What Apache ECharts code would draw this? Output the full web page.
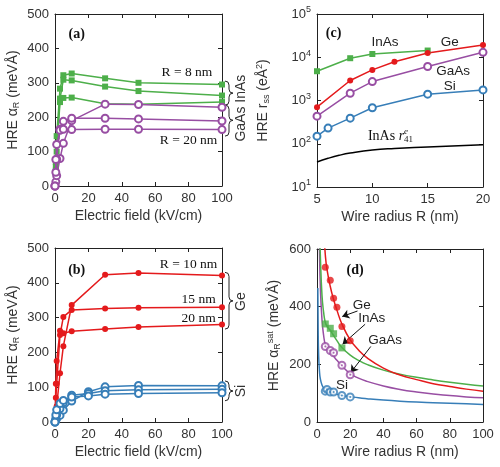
<!DOCTYPE html>
<html>
<head>
<meta charset="utf-8">
<script src="https://cdn.jsdelivr.net/npm/echarts@6/dist/echarts.min.js"></script>
<style>
  html, body { margin: 0; padding: 0; background: #fff; }
  #chart { width: 500px; height: 467px; }
</style>
</head>
<body>
<div id="chart"></div>
<script>
// ---- (a) InAs / GaAs, alpha_R vs electric field
var fieldA = [0, 0.5, 1, 3, 5, 10, 30, 50, 100];
var inAs8 = [0, 70, 145, 283, 322, 327, 313, 300, 295];
var inAsMid = [0, 55, 120, 254, 309, 307, 289, 276, 263];
var inAsLow = [0, 45, 100, 244, 256, 257, 239, 238, 244];
var gaAsTop = [0, 12, 30, 80, 124, 190, 238, 237, 229];
var gaAsMid = [0, 40, 78, 165, 188, 197, 197, 195, 189];
var gaAs20 = [0, 77, 121, 162, 165, 164, 165, 165, 164];

// ---- (b) Ge / Si
var fieldGe = [0, 0.5, 1, 3, 5, 10, 30, 50, 100];
var ge10 = [0, 20, 45, 140, 218, 336, 423, 428, 421];
var ge15 = [0, 70, 110, 250, 302, 322, 326, 328, 330];
var ge20 = [0, 110, 175, 262, 255, 261, 267, 273, 280];
var fieldSi = [0, 0.5, 1, 3, 5, 10, 20, 30, 50, 100];
var siTop = [0, 5, 10, 19, 34, 60, 87, 101, 105, 104];
var siMid = [0, 10, 20, 38, 55, 77, 82, 90, 93, 94];
var siLow = [0, 20, 35, 53, 62, 72, 75, 80, 82, 84];

// ---- (c) r_ss vs wire radius (log)
var radInAs = [5, 8, 10, 15];
var rssInAs = [4750, 9500, 11900, 14300];
var radGe = [5, 8, 10, 12, 15, 20];
var rssGe = [700, 2900, 5100, 7900, 12600, 19300];
var radGaAs = [5, 8, 10, 15, 20];
var rssGaAs = [435, 1475, 2740, 6100, 13000];
var radSi = [5, 6, 8, 10, 15, 20];
var rssSi = [150, 230, 390, 680, 1400, 1760];
var radR41 = [5, 6, 7, 8, 10, 12, 15, 20];
var r41 = [38, 46, 54, 61, 72, 78, 84, 95];

// ---- (d) saturated alpha_R vs wire radius
var geSatR = [5, 8, 10, 12, 15, 20];
var geSat = [537, 492, 429, 398, 331, 282];
var inAsSatR = [5, 8, 10, 15];
var inAsSat = [340, 325, 306, 257];
var gaAsSatR = [5, 8, 10, 15, 20];
var gaAsSat = [262, 248, 240, 197, 164];
var siSatR = [5, 6, 8, 10, 15, 20];
var siSat = [107, 113, 104, 104, 92, 87];

var geFitR = [4.3, 5, 6, 8, 10, 12, 15, 20, 25, 30, 40, 50, 60, 70, 80, 90, 100];
var geFit = [650, 580, 530, 470, 425, 388, 340, 285, 250, 223, 187, 163, 147, 133, 123, 114, 107];
var inAsFitR = [1.7, 2, 3, 4, 5, 6, 8, 10, 12, 15, 20, 25, 30, 40, 50, 60, 70, 80, 90, 100];
var inAsFit = [650, 580, 440, 380, 345, 332, 318, 300, 282, 258, 232, 214, 200, 180, 166, 155, 146, 138, 131, 125];
var gaAsFitR = [1.2, 1.5, 2, 3, 4, 5, 6, 8, 10, 12, 15, 20, 25, 30, 40, 50, 60, 70, 80, 90, 100];
var gaAsFit = [720, 600, 470, 355, 300, 268, 258, 242, 228, 214, 195, 168, 152, 141, 125, 113, 104, 97, 92, 87, 84];
var siFitR = [0.5, 0.7, 1, 1.5, 2, 3, 4, 5, 6, 8, 10, 12, 15, 20, 25, 30, 40, 50, 60, 70, 80, 90, 100];
var siFit = [465, 320, 230, 175, 150, 128, 118, 112, 108, 103, 99, 96, 92, 88, 84, 81, 76, 72, 69, 67, 65, 63, 61];

var GREEN = '#4daf4a', PURPLE = '#984ea3', RED = '#e41a1c', BLUE = '#377eb8';
var SANS = 'Liberation Sans', SERIF = 'Liberation Serif';

function zip(xs, ys) {
  return xs.map(function (x, i) { return [x, ys[i]]; });
}

var chart = echarts.init(document.getElementById('chart'));

var grids = [
  { left: 55, top: 14, width: 167, height: 172 },
  { left: 55, top: 248, width: 167, height: 174 },
  { left: 317, top: 14, width: 166, height: 173 },
  { left: 317, top: 249, width: 166, height: 173 }
];

var subRich = {
  t: { fontSize: 14, fontFamily: SANS, color: '#333' },
  s: { fontSize: 9, fontFamily: SANS, color: '#333', padding: [7, 0, 0, 0] },
  p: { fontSize: 9, fontFamily: SANS, color: '#333', padding: [0, 0, 8, 0] }
};

var xSpec = [
  { min: 0, max: 100, interval: 20, name: 'Electric field (kV/cm)' },
  { min: 0, max: 100, interval: 20, name: 'Electric field (kV/cm)' },
  { min: 5, max: 20, interval: 5, name: 'Wire radius R (nm)' },
  { min: 0, max: 100, interval: 20, name: 'Wire radius R (nm)' }
];
var ySpec = [
  { type: 'value', min: 0, max: 500, interval: 100, gap: 34, name: '{t|HRE α}{s|R}{t| (meVÅ)}' },
  { type: 'value', min: 0, max: 500, interval: 100, gap: 34, name: '{t|HRE α}{s|R}{t| (meVÅ)}' },
  { type: 'log', min: 10, max: 100000, gap: 45, name: '{t|HRE r}{s|ss}{t| (eÅ}{p|2}{t|)}' },
  { type: 'value', min: 0, max: 600, interval: 200, gap: 34, name: '{t|HRE α}{s|R}{p|sat}{t| (meVÅ)}' }
];

function baseAxis() {
  return {
    axisLine: { show: true, onZero: false, lineStyle: { color: '#222', width: 1 } },
    axisTick: { show: true, inside: true, length: 4, lineStyle: { color: '#222' } },
    splitLine: { show: false },
    axisLabel: { color: '#333', fontSize: 13, fontFamily: SANS, margin: 6 }
  };
}

var xAxes = [], yAxes = [];
xSpec.forEach(function (s, g) {
  var b = baseAxis();
  b.type = 'value'; b.gridIndex = g; b.position = 'bottom';
  b.min = s.min; b.max = s.max; b.interval = s.interval;
  b.name = s.name; b.nameLocation = 'middle'; b.nameGap = 23;
  b.nameTextStyle = { color: '#333', fontSize: 14, fontFamily: SANS };
  xAxes.push(b);
  var t = baseAxis();
  t.type = 'value'; t.gridIndex = g; t.position = 'top';
  t.min = s.min; t.max = s.max; t.interval = s.interval;
  t.axisLabel = { show: false };
  xAxes.push(t);
});
ySpec.forEach(function (s, g) {
  var b = baseAxis();
  b.type = s.type; b.gridIndex = g; b.position = 'left';
  b.min = s.min; b.max = s.max;
  if (s.interval) b.interval = s.interval;
  b.name = s.name; b.nameLocation = 'middle'; b.nameGap = s.gap;
  b.nameTextStyle = { rich: subRich };
  if (s.type === 'log') {
    b.logBase = 10;
    b.axisLabel.formatter = function (v) {
      return '{b|10}{e|' + Math.round(Math.log10(v)) + '}';
    };
    b.axisLabel.rich = {
      b: { fontSize: 13, fontFamily: SANS, color: '#333' },
      e: { fontSize: 9, fontFamily: SANS, color: '#333', padding: [0, 0, 8, 0] }
    };
  }
  yAxes.push(b);
  var r = baseAxis();
  r.type = s.type; r.gridIndex = g; r.position = 'right';
  r.min = s.min; r.max = s.max;
  if (s.interval) r.interval = s.interval;
  if (s.type === 'log') r.logBase = 10;
  r.axisLabel = { show: false };
  yAxes.push(r);
});

function lineSeries(g, xs, ys, color, symbol, size, smooth) {
  var filled = symbol !== 'emptyCircle';
  return {
    type: 'line', xAxisIndex: 2 * g, yAxisIndex: 2 * g,
    data: zip(xs, ys), color: color,
    symbol: symbol || 'none', symbolSize: size || 6, showSymbol: !!symbol,
    smooth: !!smooth, clip: true,
    lineStyle: { color: color, width: 1.5 },
    itemStyle: filled ? { color: color } : { color: color, borderColor: color, borderWidth: 1.3 },
    z: filled ? 3 : 4
  };
}
function pointSeries(g, xs, ys, color, symbol, size) {
  var s = lineSeries(g, xs, ys, color, symbol, size);
  s.type = 'scatter';
  delete s.smooth; delete s.showSymbol; delete s.lineStyle;
  s.z = 5;
  return s;
}

var arrows = [
  [[24.4, 385], [15.2, 366]],
  [[29, 339], [15.4, 270]],
  [[32.4, 262], [20.4, 172]]
];

var siSatPoints = pointSeries(3, siSatR, siSat, BLUE, 'emptyCircle', 7);
siSatPoints.markLine = {
  silent: true, animation: false,
  symbol: ['none', 'arrow'], symbolSize: 7,
  label: { show: false },
  lineStyle: { color: '#111', width: 1, type: 'solid' },
  data: arrows.map(function (a) { return [{ coord: a[0] }, { coord: a[1] }]; })
};

var series = [
  lineSeries(0, fieldA, inAs8, GREEN, 'rect', 6),
  lineSeries(0, fieldA, inAsMid, GREEN, 'rect', 6),
  lineSeries(0, fieldA, inAsLow, GREEN, 'rect', 6),
  lineSeries(0, fieldA, gaAsTop, PURPLE, 'emptyCircle', 7),
  lineSeries(0, fieldA, gaAsMid, PURPLE, 'emptyCircle', 7),
  lineSeries(0, fieldA, gaAs20, PURPLE, 'emptyCircle', 7),

  lineSeries(1, fieldGe, ge10, RED, 'circle', 6),
  lineSeries(1, fieldGe, ge15, RED, 'circle', 6),
  lineSeries(1, fieldGe, ge20, RED, 'circle', 6),
  lineSeries(1, fieldSi, siTop, BLUE, 'emptyCircle', 7),
  lineSeries(1, fieldSi, siMid, BLUE, 'emptyCircle', 7),
  lineSeries(1, fieldSi, siLow, BLUE, 'emptyCircle', 7),

  lineSeries(2, radR41, r41, '#000', null, 0, true),
  lineSeries(2, radInAs, rssInAs, GREEN, 'rect', 6),
  lineSeries(2, radGe, rssGe, RED, 'circle', 6),
  lineSeries(2, radGaAs, rssGaAs, PURPLE, 'emptyCircle', 7),
  lineSeries(2, radSi, rssSi, BLUE, 'emptyCircle', 7),

  lineSeries(3, siFitR, siFit, BLUE, null, 0, true),
  lineSeries(3, gaAsFitR, gaAsFit, PURPLE, null, 0, true),
  lineSeries(3, inAsFitR, inAsFit, GREEN, null, 0, true),
  lineSeries(3, geFitR, geFit, RED, null, 0, true),
  pointSeries(3, geSatR, geSat, RED, 'circle', 7),
  pointSeries(3, inAsSatR, inAsSat, GREEN, 'rect', 7),
  pointSeries(3, gaAsSatR, gaAsSat, PURPLE, 'emptyCircle', 7),
  siSatPoints,
  pointSeries(3, gaAsSatR, gaAsSat, PURPLE, 'circle', 2),
  pointSeries(3, siSatR, siSat, BLUE, 'circle', 2)
];

chart.setOption({
  animation: false,
  grid: grids,
  xAxis: xAxes,
  yAxis: yAxes,
  series: series
});

// ---- annotations placed through the axes
var panelTag = { fontSize: 14, fontFamily: SERIF, fontWeight: 'bold', fill: '#111' };
var serifLbl = { fontSize: 13.5, fontFamily: SERIF, fill: '#111' };
var sansLbl = { fontSize: 13.5, fontFamily: SANS, fill: '#222' };

var labels = [
  [0, 13, 442, '(a)', panelTag],
  [0, 79, 331, 'R = 8 nm', serifLbl],
  [0, 80, 133, 'R = 20 nm', serifLbl],
  [1, 13, 437, '(b)', panelTag],
  [1, 80, 452, 'R = 10 nm', serifLbl],
  [1, 86, 351, '15 nm', serifLbl],
  [1, 86, 298, '20 nm', serifLbl],
  [2, 6.5, 34700, '(c)', panelTag],
  [2, 11.15, 22400, 'InAs', sansLbl],
  [2, 17, 22400, 'Ge', sansLbl],
  [2, 17.3, 4680, 'GaAs', sansLbl],
  [2, 17, 2090, 'Si', sansLbl],
  [3, 23, 527, '(d)', panelTag],
  [3, 27, 406, 'Ge', sansLbl],
  [3, 33, 360, 'InAs', sansLbl],
  [3, 41, 285, 'GaAs', sansLbl],
  [3, 15, 129, 'Si', sansLbl]
];

var braces = [
  [0, 305, 235, 270, 283, 'InAs'],
  [0, 235, 145, 191, 180, 'GaAs'],
  [1, 430, 267, 348, 346, 'Ge'],
  [1, 118, 61, 89, 89, 'Si']
];

function px(g, x, y) {
  return chart.convertToPixel({ xAxisIndex: 2 * g, yAxisIndex: 2 * g }, [x, y]);
}

var graphics = [];
labels.forEach(function (l) {
  var p = px(l[0], l[1], l[2]);
  var st = Object.assign({ text: l[3], align: 'center', verticalAlign: 'middle' }, l[4]);
  graphics.push({ type: 'text', x: p[0], y: p[1], style: st, z: 10 });
});

// InAs r^e_41 label
var pr = px(2, 9.6, 148);
graphics.push({
  type: 'text', x: pr[0], y: pr[1], z: 10,
  style: {
    text: '{a|InAs }{i|r}{s|41}', align: 'left', verticalAlign: 'middle',
    rich: {
      a: { fontSize: 14, fontFamily: SERIF, fill: '#111' },
      i: { fontSize: 14, fontFamily: SERIF, fontStyle: 'italic', fill: '#111' },
      s: { fontSize: 9, fontFamily: SERIF, fill: '#111', padding: [7, 0, 0, 0] }
    }
  }
});
graphics.push({
  type: 'text', x: pr[0] + 36, y: pr[1] - 5, z: 10,
  style: { text: 'e', fontSize: 9, fontFamily: SERIF, fontStyle: 'italic', fill: '#111', align: 'left', verticalAlign: 'middle' }
});

function braceParts(x, yt, yb, ym, w) {
  var h = w / 2, st = { stroke: '#222', lineWidth: 1, fill: null };
  return [
    { type: 'bezierCurve', shape: { x1: x, y1: yt, x2: x + h, y2: yt + h, cpx1: x + h, cpy1: yt }, style: st },
    { type: 'line', shape: { x1: x + h, y1: yt + h, x2: x + h, y2: ym - h }, style: st },
    { type: 'bezierCurve', shape: { x1: x + h, y1: ym - h, x2: x + w, y2: ym, cpx1: x + h, cpy1: ym }, style: st },
    { type: 'bezierCurve', shape: { x1: x + w, y1: ym, x2: x + h, y2: ym + h, cpx1: x + h, cpy1: ym }, style: st },
    { type: 'line', shape: { x1: x + h, y1: ym + h, x2: x + h, y2: yb - h }, style: st },
    { type: 'bezierCurve', shape: { x1: x + h, y1: yb - h, x2: x, y2: yb, cpx1: x + h, cpy1: yb }, style: st }
  ];
}

braces.forEach(function (b) {
  var g = b[0];
  var right = px(g, 100, 0)[0];
  var yt = px(g, 100, b[1])[1], yb = px(g, 100, b[2])[1], ym = px(g, 100, b[3])[1];
  braceParts(right + 3, yt, yb, ym, 8).forEach(function (e) { graphics.push(e); });
  graphics.push({
    type: 'text', x: right + 19, y: px(g, 100, b[4])[1], rotation: Math.PI / 2, z: 10,
    style: { text: b[5], fontSize: 14, fontFamily: SANS, fill: '#333', align: 'center', verticalAlign: 'middle' }
  });
});

chart.setOption({ graphic: graphics });
</script>
</body>
</html>
